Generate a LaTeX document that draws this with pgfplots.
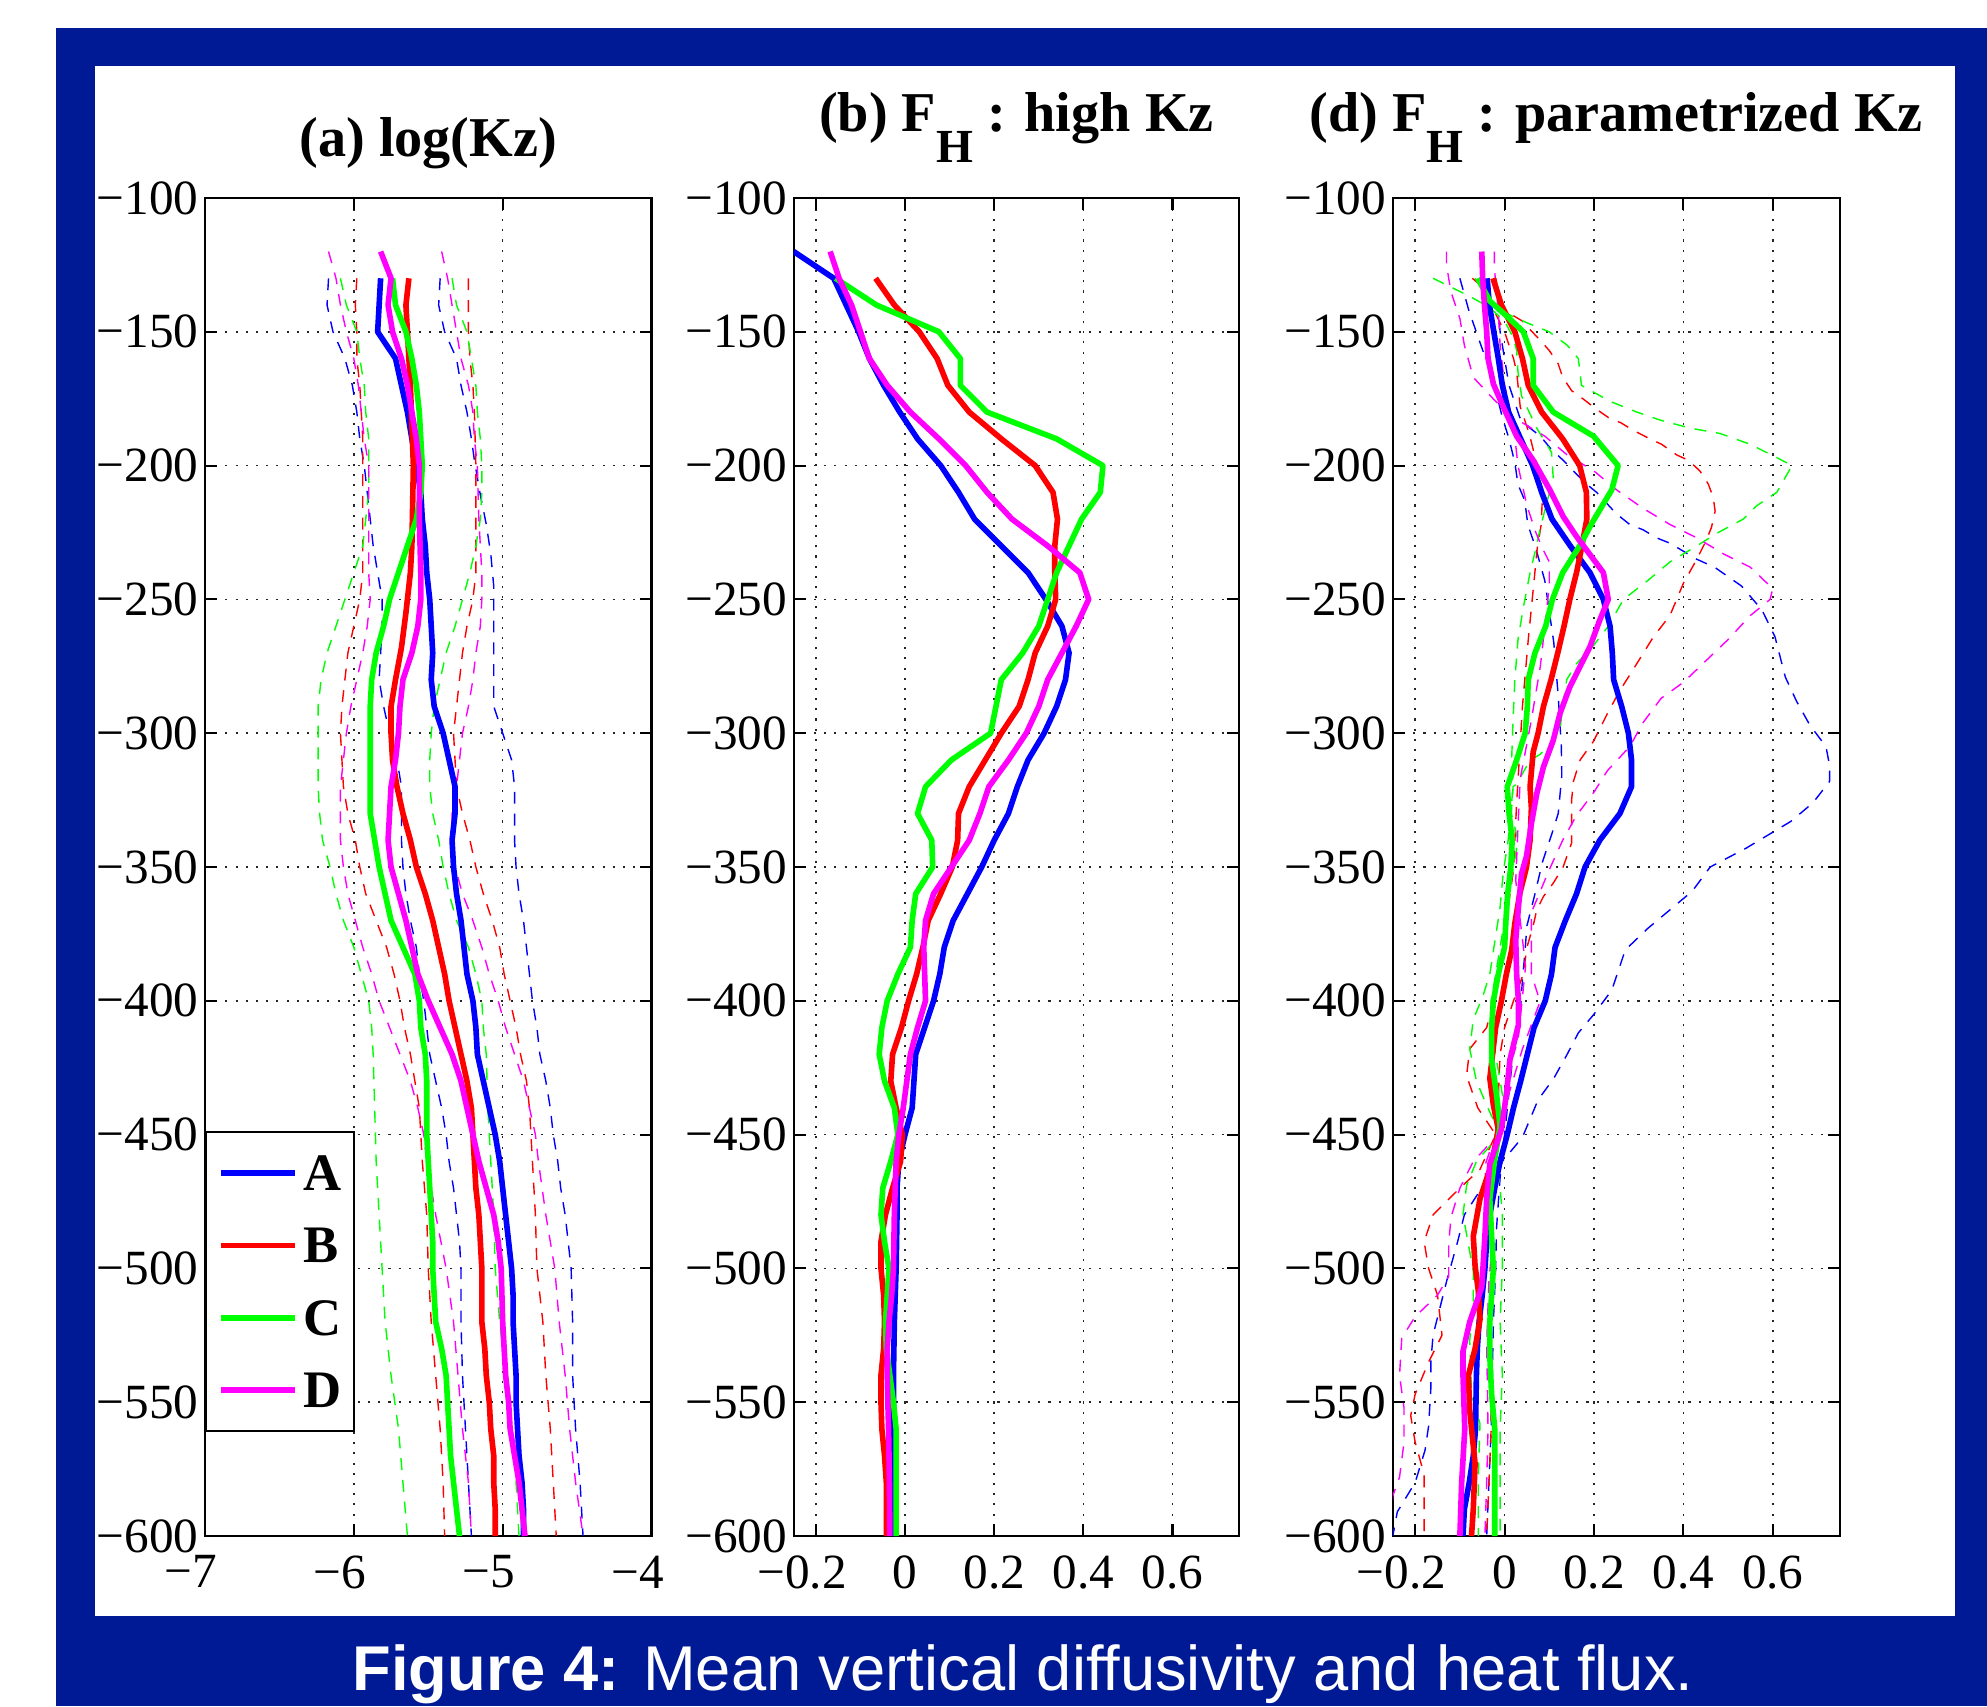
\documentclass[border=0pt]{standalone}
\usepackage{fontspec}
\setmainfont{Liberation Serif}
\newfontfamily\capfont{Liberation Sans}
\usepackage{pgfplots}
\pgfplotsset{compat=1.18}
\definecolor{frameblue}{RGB}{0,25,148}
\definecolor{mblue}{RGB}{0,0,255}
\definecolor{mred}{RGB}{255,0,0}
\definecolor{mgreen}{RGB}{0,255,0}
\definecolor{mmag}{RGB}{255,0,255}
\pgfplotsset{
  panel/.style={
    scale only axis, height=133.8mm, anchor=south west,
    ymin=-600, ymax=-100,
    ytick={-600,-550,...,-100},
    yticklabels={−600,−550,−500,−450,−400,−350,−300,−250,−200,−150,−100},
    grid=major,
    major grid style={black!85, line width=0.45pt, dash pattern=on 0.6pt off 2.3pt},
    tick align=inside,
    major tick length=1.2mm,
    axis line style={line width=0.6pt},
    every tick/.style={black, line width=0.6pt},
    tick label style={font=\fontsize{14}{16}\selectfont},
    yticklabel style={anchor=east, inner sep=0pt, xshift=-0.6mm},
    xticklabel style={anchor=north, inner sep=0pt, yshift=-1.9mm},
    title style={at={(0.5,1)}, anchor=base, inner sep=0pt, font=\bfseries\fontsize{16}{18}\selectfont},
    every axis plot/.append style={line join=round},
  },
  sol/.style={line width=1.6pt},
  dsh/.style={line width=0.4pt, dash pattern=on 3.4pt off 2.8pt, forget plot},
}
\newcommand{\subH}{\raisebox{-0.55em}{\fontsize{13.5}{14}\selectfont H}}
\begin{document}
\begin{tikzpicture}
\fill[white] (0,0) rectangle (198.7mm,170.6mm);
\fill[frameblue] (5.6mm,0) rectangle (198.7mm,167.8mm);
\fill[white] (9.5mm,9.0mm) rectangle (195.5mm,164.0mm);
\node[anchor=base, inner sep=0pt, text=white, font=\capfont\fontsize{18}{20}\selectfont] at (102.3mm,1.6mm) {\textbf{Figure 4:} Mean vertical diffusivity and heat flux.};

% ---------------- panel (a)
\begin{axis}[panel, at={(20.5mm,17.0mm)}, width=44.65mm,
  xmin=-7, xmax=-4, xtick={-7,-6,-5,-4},
  xticklabels={\llap{−}7,\llap{−}6,\llap{−}5,\llap{−}4},
  title={(a) log(Kz)}, title style={yshift=2.0mm},
  legend cell align=left,
  legend style={at={(0,0.3027)}, anchor=north west, draw=black, line width=0.6pt, fill=white,
    inner xsep=1.2mm, inner ysep=0.5mm, row sep=0pt,
    font=\bfseries\fontsize{15}{15}\selectfont,
    nodes={inner sep=0pt, text height=5.365mm, text depth=1.865mm},
    /tikz/every odd column/.append style={column sep=0.6mm}},
  legend image code/.code={\draw[#1, line cap=butt] (0mm,0mm) -- (7.4mm,0mm);},
]
% dashed bounds
\addplot[dsh, mblue] coordinates {(-6.17,-130) (-6.18,-140) (-6.14,-150) (-6.06,-160) (-6.01,-170) (-5.98,-180) (-5.96,-190) (-5.93,-200) (-5.89,-220) (-5.87,-230) (-5.84,-240) (-5.81,-250) (-5.81,-260) (-5.82,-270) (-5.83,-280) (-5.80,-290) (-5.76,-300) (-5.71,-310) (-5.68,-320) (-5.68,-330) (-5.68,-340) (-5.67,-350) (-5.65,-360) (-5.62,-370) (-5.58,-380) (-5.56,-390) (-5.53,-400) (-5.51,-410) (-5.49,-420) (-5.45,-430) (-5.41,-440) (-5.38,-450) (-5.36,-460) (-5.33,-470) (-5.31,-480) (-5.29,-490) (-5.28,-500) (-5.28,-520) (-5.27,-540) (-5.25,-560) (-5.23,-580) (-5.21,-600)};
\addplot[dsh, mblue] coordinates {(-5.42,-130) (-5.43,-140) (-5.39,-150) (-5.31,-160) (-5.28,-170) (-5.24,-180) (-5.21,-190) (-5.19,-198) (-5.15,-211) (-5.11,-222) (-5.08,-233) (-5.06,-245) (-5.06,-260) (-5.06,-275) (-5.06,-290) (-5.00,-300) (-4.94,-310) (-4.92,-320) (-4.92,-330) (-4.92,-340) (-4.91,-350) (-4.89,-360) (-4.86,-370) (-4.84,-380) (-4.82,-390) (-4.80,-400) (-4.77,-410) (-4.75,-420) (-4.71,-430) (-4.68,-440) (-4.66,-450) (-4.63,-460) (-4.61,-470) (-4.58,-480) (-4.56,-490) (-4.54,-500) (-4.53,-520) (-4.53,-540) (-4.51,-560) (-4.48,-580) (-4.46,-600)};
\addplot[dsh, mred] coordinates {(-5.98,-130) (-5.99,-140) (-5.98,-150) (-5.98,-160) (-5.96,-170) (-5.95,-180) (-5.94,-190) (-5.94,-200) (-5.94,-240) (-5.96,-250) (-6.00,-260) (-6.04,-270) (-6.06,-280) (-6.08,-290) (-6.09,-300) (-6.08,-310) (-6.07,-320) (-6.04,-330) (-5.99,-340) (-5.96,-350) (-5.92,-360) (-5.85,-370) (-5.78,-380) (-5.73,-390) (-5.69,-400) (-5.66,-410) (-5.62,-420) (-5.59,-430) (-5.56,-440) (-5.55,-450) (-5.54,-460) (-5.51,-480) (-5.50,-500) (-5.48,-520) (-5.45,-540) (-5.42,-560) (-5.40,-580) (-5.39,-600)};
\addplot[dsh, mred] coordinates {(-5.23,-130) (-5.23,-140) (-5.23,-150) (-5.22,-160) (-5.20,-170) (-5.19,-180) (-5.18,-200) (-5.18,-240) (-5.20,-250) (-5.24,-260) (-5.27,-270) (-5.29,-280) (-5.31,-290) (-5.33,-300) (-5.32,-310) (-5.31,-320) (-5.27,-330) (-5.22,-340) (-5.18,-350) (-5.13,-360) (-5.07,-370) (-5.02,-380) (-4.99,-390) (-4.95,-400) (-4.91,-410) (-4.88,-420) (-4.84,-430) (-4.82,-440) (-4.81,-450) (-4.80,-460) (-4.78,-480) (-4.77,-500) (-4.73,-520) (-4.71,-540) (-4.68,-560) (-4.66,-580) (-4.64,-600)};
\addplot[dsh, mgreen] coordinates {(-6.09,-130) (-6.05,-140) (-5.98,-150) (-5.96,-160) (-5.93,-170) (-5.92,-180) (-5.90,-190) (-5.90,-200) (-5.90,-210) (-5.92,-220) (-5.94,-230) (-6.00,-240) (-6.06,-250) (-6.12,-260) (-6.18,-270) (-6.22,-280) (-6.24,-290) (-6.24,-300) (-6.24,-320) (-6.23,-330) (-6.21,-340) (-6.16,-350) (-6.12,-360) (-6.07,-370) (-6.00,-380) (-5.95,-390) (-5.90,-400) (-5.88,-410) (-5.87,-420) (-5.86,-440) (-5.85,-460) (-5.83,-480) (-5.81,-500) (-5.79,-520) (-5.75,-540) (-5.70,-560) (-5.67,-580) (-5.64,-600)};
\addplot[dsh, mgreen] coordinates {(-5.34,-130) (-5.31,-140) (-5.24,-150) (-5.21,-160) (-5.18,-170) (-5.17,-180) (-5.15,-190) (-5.14,-200) (-5.14,-210) (-5.15,-220) (-5.18,-230) (-5.22,-240) (-5.27,-250) (-5.32,-260) (-5.38,-270) (-5.42,-280) (-5.46,-290) (-5.48,-300) (-5.49,-310) (-5.49,-320) (-5.47,-330) (-5.43,-340) (-5.40,-350) (-5.36,-360) (-5.31,-370) (-5.23,-380) (-5.18,-390) (-5.14,-400) (-5.13,-410) (-5.11,-420) (-5.10,-440) (-5.08,-460) (-5.06,-480) (-5.05,-500) (-5.02,-520) (-4.98,-540) (-4.94,-560) (-4.91,-580) (-4.89,-600)};
\addplot[dsh, mmag] coordinates {(-6.17,-120) (-6.12,-130) (-6.09,-140) (-6.05,-150) (-6.00,-160) (-5.97,-170) (-5.95,-180) (-5.93,-190) (-5.90,-200) (-5.90,-220) (-5.90,-240) (-5.89,-250) (-5.91,-260) (-5.94,-270) (-5.98,-280) (-6.02,-290) (-6.05,-300) (-6.07,-310) (-6.09,-320) (-6.09,-330) (-6.09,-340) (-6.07,-350) (-6.04,-360) (-5.99,-370) (-5.94,-380) (-5.88,-390) (-5.83,-400) (-5.76,-410) (-5.69,-420) (-5.62,-430) (-5.57,-440) (-5.53,-450) (-5.51,-460) (-5.45,-480) (-5.38,-500) (-5.33,-520) (-5.30,-540) (-5.27,-560) (-5.23,-580) (-5.21,-600)};
\addplot[dsh, mmag] coordinates {(-5.41,-120) (-5.37,-130) (-5.34,-140) (-5.31,-150) (-5.28,-160) (-5.23,-170) (-5.20,-180) (-5.19,-190) (-5.17,-200) (-5.16,-220) (-5.14,-240) (-5.14,-250) (-5.15,-260) (-5.18,-270) (-5.20,-280) (-5.23,-290) (-5.27,-300) (-5.29,-310) (-5.31,-320) (-5.34,-330) (-5.34,-340) (-5.32,-350) (-5.27,-360) (-5.20,-370) (-5.14,-380) (-5.09,-390) (-5.03,-400) (-4.98,-410) (-4.92,-420) (-4.86,-430) (-4.82,-440) (-4.78,-450) (-4.76,-460) (-4.71,-480) (-4.65,-500) (-4.62,-520) (-4.58,-540) (-4.55,-560) (-4.51,-580) (-4.46,-600)};
% solid means
\addplot[sol, mblue] coordinates {(-5.82,-130) (-5.83,-140) (-5.84,-150) (-5.72,-160) (-5.68,-170) (-5.64,-180) (-5.61,-190) (-5.58,-200) (-5.55,-210) (-5.54,-220) (-5.52,-230) (-5.51,-240) (-5.49,-250) (-5.48,-260) (-5.47,-270) (-5.48,-280) (-5.46,-290) (-5.40,-300) (-5.32,-320) (-5.32,-330) (-5.34,-340) (-5.33,-350) (-5.31,-360) (-5.28,-370) (-5.26,-380) (-5.24,-390) (-5.20,-400) (-5.18,-410) (-5.17,-420) (-5.13,-430) (-5.09,-440) (-5.05,-450) (-5.02,-460) (-5.00,-470) (-4.98,-480) (-4.96,-490) (-4.94,-500) (-4.93,-510) (-4.93,-520) (-4.92,-530) (-4.91,-540) (-4.91,-550) (-4.90,-560) (-4.89,-570) (-4.87,-580) (-4.86,-590) (-4.86,-600)};
\addlegendentry{A}
\addplot[sol, mred] coordinates {(-5.63,-130) (-5.65,-140) (-5.64,-150) (-5.62,-170) (-5.60,-200) (-5.61,-230) (-5.62,-240) (-5.65,-255) (-5.68,-268) (-5.72,-280) (-5.75,-290) (-5.75,-300) (-5.74,-310) (-5.71,-320) (-5.67,-330) (-5.62,-340) (-5.58,-350) (-5.52,-360) (-5.47,-370) (-5.43,-380) (-5.39,-390) (-5.36,-400) (-5.32,-410) (-5.28,-420) (-5.24,-430) (-5.21,-440) (-5.20,-450) (-5.19,-460) (-5.18,-470) (-5.16,-480) (-5.15,-490) (-5.14,-500) (-5.14,-520) (-5.12,-530) (-5.11,-540) (-5.09,-550) (-5.08,-560) (-5.06,-570) (-5.06,-580) (-5.05,-590) (-5.05,-600)};
\addlegendentry{B}
\addplot[sol, mgreen] coordinates {(-5.74,-130) (-5.72,-140) (-5.65,-150) (-5.61,-160) (-5.58,-170) (-5.56,-180) (-5.55,-190) (-5.54,-200) (-5.55,-210) (-5.58,-220) (-5.64,-230) (-5.70,-240) (-5.76,-250) (-5.80,-260) (-5.85,-270) (-5.88,-280) (-5.89,-290) (-5.89,-300) (-5.89,-330) (-5.86,-340) (-5.83,-350) (-5.79,-360) (-5.75,-370) (-5.67,-380) (-5.59,-390) (-5.56,-400) (-5.55,-410) (-5.52,-420) (-5.51,-430) (-5.51,-450) (-5.50,-460) (-5.49,-470) (-5.48,-480) (-5.47,-490) (-5.47,-500) (-5.46,-510) (-5.45,-520) (-5.41,-530) (-5.38,-540) (-5.37,-550) (-5.36,-560) (-5.35,-570) (-5.33,-580) (-5.31,-590) (-5.29,-600)};
\addlegendentry{C}
\addplot[sol, mmag] coordinates {(-5.82,-120) (-5.75,-130) (-5.77,-140) (-5.74,-150) (-5.68,-160) (-5.64,-170) (-5.61,-180) (-5.58,-190) (-5.56,-200) (-5.56,-220) (-5.55,-240) (-5.55,-250) (-5.57,-260) (-5.61,-270) (-5.67,-280) (-5.69,-290) (-5.70,-300) (-5.72,-310) (-5.75,-320) (-5.76,-330) (-5.77,-340) (-5.75,-350) (-5.70,-360) (-5.65,-370) (-5.61,-380) (-5.57,-390) (-5.50,-400) (-5.42,-410) (-5.34,-420) (-5.28,-430) (-5.24,-440) (-5.20,-450) (-5.16,-460) (-5.11,-470) (-5.06,-480) (-5.03,-490) (-5.01,-500) (-5.00,-520) (-4.99,-530) (-4.98,-540) (-4.96,-550) (-4.95,-560) (-4.92,-570) (-4.89,-580) (-4.87,-590) (-4.85,-600)};
\addlegendentry{D}
\end{axis}

% ---------------- panel (b)
\begin{axis}[panel, at={(79.36mm,17.0mm)}, width=44.57mm,
  xmin=-0.25, xmax=0.75, xtick={-0.2,0,0.2,0.4,0.6},
  xticklabels={\llap{−}0.2,0,0.2,0.4,0.6},
  title={(b) F\subH\ : high Kz}, title style={yshift=4.5mm},
]
\addplot[sol, mblue] coordinates {(-0.25,-120) (-0.16,-130) (-0.132,-140) (-0.104,-150) (-0.08,-160) (-0.048,-170) (-0.012,-180) (0.028,-190) (0.08,-200) (0.12,-210) (0.156,-220) (0.216,-230) (0.276,-240) (0.316,-250) (0.352,-260) (0.368,-270) (0.36,-280) (0.34,-290) (0.312,-300) (0.276,-310) (0.252,-320) (0.232,-330) (0.2,-340) (0.172,-350) (0.14,-360) (0.108,-370) (0.088,-380) (0.078,-390) (0.064,-400) (0.044,-410) (0.024,-420) (0.02,-430) (0.016,-440) (0.0,-450) (-0.014,-460) (-0.018,-470) (-0.018,-480) (-0.02,-500) (-0.024,-520) (-0.026,-540) (-0.026,-600)};
\addplot[sol, mred] coordinates {(-0.066,-130) (-0.024,-140) (0.032,-150) (0.072,-160) (0.096,-170) (0.144,-180) (0.216,-190) (0.292,-200) (0.332,-210) (0.342,-220) (0.336,-230) (0.336,-240) (0.338,-250) (0.32,-260) (0.292,-270) (0.276,-280) (0.256,-290) (0.216,-300) (0.18,-310) (0.144,-320) (0.12,-330) (0.118,-340) (0.106,-350) (0.08,-360) (0.052,-370) (0.04,-380) (0.026,-390) (0.008,-400) (-0.008,-410) (-0.028,-420) (-0.032,-430) (-0.02,-440) (-0.006,-450) (-0.01,-460) (-0.028,-470) (-0.044,-480) (-0.054,-490) (-0.054,-500) (-0.048,-510) (-0.046,-520) (-0.048,-530) (-0.054,-540) (-0.054,-550) (-0.052,-560) (-0.046,-570) (-0.042,-580) (-0.042,-600)};
\addplot[sol, mgreen] coordinates {(-0.156,-130) (-0.064,-140) (0.076,-150) (0.124,-160) (0.124,-170) (0.184,-180) (0.34,-190) (0.444,-200) (0.438,-210) (0.396,-220) (0.368,-230) (0.34,-240) (0.32,-250) (0.30,-260) (0.264,-270) (0.216,-280) (0.204,-290) (0.192,-300) (0.104,-310) (0.046,-320) (0.028,-330) (0.06,-340) (0.062,-350) (0.024,-360) (0.016,-370) (0.012,-380) (-0.016,-390) (-0.04,-400) (-0.052,-410) (-0.058,-420) (-0.046,-430) (-0.024,-440) (-0.016,-450) (-0.032,-460) (-0.05,-470) (-0.054,-480) (-0.046,-490) (-0.036,-500) (-0.04,-510) (-0.044,-520) (-0.042,-530) (-0.034,-540) (-0.026,-550) (-0.02,-560) (-0.02,-600)};
\addplot[sol, mmag] coordinates {(-0.168,-120) (-0.148,-130) (-0.12,-140) (-0.1,-150) (-0.08,-160) (-0.04,-170) (0.012,-180) (0.076,-190) (0.136,-200) (0.184,-210) (0.24,-220) (0.32,-230) (0.392,-240) (0.412,-250) (0.384,-260) (0.352,-270) (0.32,-280) (0.30,-290) (0.272,-300) (0.232,-310) (0.188,-320) (0.168,-330) (0.144,-340) (0.104,-350) (0.064,-360) (0.046,-370) (0.042,-380) (0.044,-390) (0.046,-400) (0.028,-410) (0.012,-420) (0.004,-430) (-0.004,-440) (-0.014,-450) (-0.02,-460) (-0.022,-470) (-0.024,-480) (-0.026,-500) (-0.03,-510) (-0.036,-520) (-0.04,-530) (-0.04,-540) (-0.037,-560) (-0.035,-580) (-0.034,-600)};
\end{axis}

% ---------------- panel (d)
\begin{axis}[panel, at={(139.28mm,17.0mm)}, width=44.7mm,
  xmin=-0.25, xmax=0.75, xtick={-0.2,0,0.2,0.4,0.6},
  xticklabels={\llap{−}0.2,0,0.2,0.4,0.6},
  title={(d) F\subH\ : parametrized Kz}, title style={yshift=4.5mm},
]
% dashed
\addplot[dsh, mblue] coordinates {(-0.1,-130) (-0.08,-142) (-0.055,-154) (-0.036,-163) (-0.02,-172) (-0.005,-182) (0.01,-190) (0.023,-199) (0.03,-207) (0.045,-213) (0.052,-222) (0.07,-231) (0.09,-243) (0.11,-266) (0.12,-286) (0.127,-305) (0.128,-316) (0.12,-330) (0.105,-338) (0.085,-348) (0.068,-360) (0.05,-372) (0.045,-383) (0.04,-392) (0.035,-405) (0.017,-423) (0.0,-450) (-0.01,-466) (-0.018,-485) (-0.02,-500) (-0.025,-520) (-0.03,-560) (-0.04,-600)};
\addplot[dsh, mblue] coordinates {(-0.02,-130) (-0.01,-150) (0.01,-170) (0.034,-182) (0.057,-186) (0.08,-189) (0.105,-194) (0.131,-198) (0.154,-202) (0.184,-207) (0.206,-210) (0.228,-214) (0.25,-218) (0.28,-222) (0.31,-224) (0.34,-227) (0.37,-229) (0.4,-232) (0.43,-235) (0.47,-238) (0.53,-245) (0.576,-254) (0.605,-264) (0.628,-279) (0.653,-288) (0.683,-297) (0.719,-305) (0.727,-312) (0.727,-318) (0.69,-326) (0.64,-333) (0.6,-337) (0.54,-343) (0.46,-350) (0.42,-359) (0.37,-366) (0.32,-373) (0.27,-381) (0.25,-391) (0.24,-396) (0.2,-405) (0.165,-412) (0.14,-420) (0.11,-429) (0.075,-437) (0.04,-451) (-0.04,-467) (-0.09,-480) (-0.105,-490) (-0.13,-505) (-0.16,-525) (-0.165,-535) (-0.165,-545) (-0.17,-559) (-0.178,-568) (-0.2,-580) (-0.24,-591) (-0.25,-600)};
\addplot[dsh, mred] coordinates {(-0.072,-130) (-0.051,-133) (-0.03,-140) (0.0,-150) (0.02,-160) (0.027,-165) (0.035,-178) (0.055,-188) (0.073,-200) (0.085,-210) (0.082,-222) (0.073,-231) (0.066,-243) (0.053,-265) (0.04,-290) (0.027,-326) (0.02,-351) (0.008,-365) (0.0,-381) (-0.01,-390) (-0.04,-410) (-0.078,-418) (-0.085,-428) (-0.06,-440) (-0.02,-450) (-0.055,-463) (-0.1,-470) (-0.16,-480) (-0.18,-490) (-0.17,-500) (-0.15,-510) (-0.14,-525) (-0.17,-535) (-0.2,-547) (-0.21,-555) (-0.2,-565) (-0.18,-577) (-0.18,-600)};
\addplot[dsh, mred] coordinates {(-0.02,-130) (-0.01,-137) (0.0,-142) (0.04,-146) (0.05,-148) (0.079,-153) (0.1,-157) (0.12,-162) (0.13,-167) (0.15,-172) (0.175,-175) (0.206,-179) (0.232,-182) (0.26,-184) (0.29,-187) (0.325,-190) (0.351,-192) (0.385,-196) (0.411,-198) (0.437,-202) (0.456,-207) (0.467,-212) (0.471,-217) (0.463,-223) (0.451,-228) (0.43,-235) (0.4,-244) (0.37,-256) (0.333,-264) (0.281,-278) (0.258,-284) (0.229,-293) (0.199,-303) (0.169,-310) (0.154,-318) (0.15,-325) (0.15,-341) (0.131,-350) (0.109,-356) (0.087,-361) (0.072,-366) (0.064,-372) (0.05,-380) (0.042,-390) (0.02,-400) (0.0,-410) (-0.01,-420) (-0.015,-440) (-0.02,-450) (-0.025,-460) (-0.03,-480) (-0.03,-500) (-0.035,-520) (-0.03,-540) (-0.03,-560) (-0.035,-580) (-0.04,-600)};
\addplot[dsh, mgreen] coordinates {(-0.16,-130) (-0.075,-137) (-0.033,-141) (0.0,-146) (0.019,-152) (0.027,-157) (0.03,-165) (0.038,-174) (0.072,-186) (0.105,-195) (0.109,-205) (0.094,-214) (0.079,-224) (0.07,-231) (0.057,-240) (0.042,-253) (0.03,-265) (0.023,-280) (0.019,-295) (0.016,-309) (0.019,-320) (0.008,-340) (-0.003,-352) (-0.01,-365) (-0.033,-390) (-0.048,-398) (-0.07,-407) (-0.078,-418) (-0.063,-430) (-0.04,-439) (-0.01,-450) (-0.063,-460) (-0.085,-469) (-0.093,-480) (-0.07,-501) (-0.07,-514) (-0.078,-527) (-0.074,-547) (-0.055,-558) (-0.059,-579) (-0.059,-600)};
\addplot[dsh, mgreen] coordinates {(-0.066,-130) (-0.02,-141) (0.027,-145) (0.07,-148) (0.1,-150) (0.14,-155) (0.165,-160) (0.172,-170) (0.236,-176) (0.296,-180) (0.348,-183) (0.415,-186) (0.482,-188) (0.549,-192) (0.609,-197) (0.643,-200) (0.609,-210) (0.564,-215) (0.534,-220) (0.478,-225) (0.43,-230) (0.37,-236) (0.32,-243) (0.266,-250) (0.232,-260) (0.2,-267) (0.161,-274) (0.139,-280) (0.13,-290) (0.124,-299) (0.101,-304) (0.079,-308) (0.057,-310) (0.027,-319) (0.019,-320) (0.015,-330) (0.03,-340) (0.02,-350) (0.01,-360) (0.0,-370) (-0.01,-380) (-0.02,-390) (-0.03,-400) (-0.03,-410) (-0.02,-420) (-0.01,-430) (0.0,-440) (-0.01,-450) (-0.02,-460) (-0.01,-470) (-0.005,-480) (-0.005,-500) (-0.01,-520) (-0.005,-540) (-0.01,-560) (-0.01,-580) (-0.01,-600)};
\addplot[dsh, mmag] coordinates {(-0.13,-120) (-0.13,-125) (-0.12,-135) (-0.1,-145) (-0.09,-155) (-0.07,-167) (-0.02,-176) (0.02,-182) (0.09,-189) (0.14,-196) (0.2,-202) (0.25,-209) (0.31,-216) (0.37,-222) (0.43,-227) (0.49,-233) (0.55,-238) (0.6,-246) (0.594,-250) (0.55,-256) (0.5,-265) (0.45,-273) (0.4,-281) (0.35,-287) (0.31,-296) (0.28,-305) (0.23,-314) (0.2,-322) (0.16,-331) (0.13,-340) (0.1,-351) (0.08,-359) (0.06,-367) (0.06,-390) (0.075,-398) (0.08,-400) (0.04,-418) (0.0,-440) (-0.02,-451) (-0.07,-460) (-0.1,-470) (-0.12,-481) (-0.125,-491) (-0.125,-503) (-0.15,-510) (-0.2,-518) (-0.23,-526) (-0.235,-540) (-0.225,-552) (-0.225,-565) (-0.235,-578) (-0.25,-585) (-0.26,-600)};
\addplot[dsh, mmag] coordinates {(-0.023,-120) (-0.023,-126) (-0.015,-140) (-0.01,-155) (0.0,-170) (0.02,-185) (0.03,-200) (0.05,-215) (0.07,-225) (0.085,-231) (0.1,-236) (0.1,-245) (0.09,-260) (0.08,-275) (0.06,-295) (0.035,-317) (0.03,-335) (0.025,-355) (0.035,-370) (0.047,-387) (0.03,-415) (0.01,-425) (0.0,-440) (-0.02,-450) (-0.045,-462) (-0.035,-475) (-0.025,-486) (-0.035,-505) (-0.04,-528) (-0.037,-560) (-0.04,-580) (-0.044,-600)};
% solid
\addplot[sol, mblue] coordinates {(-0.039,-130) (-0.034,-140) (-0.024,-150) (-0.014,-160) (-0.005,-170) (0.009,-180) (0.036,-190) (0.063,-200) (0.083,-210) (0.106,-220) (0.147,-230) (0.191,-240) (0.221,-250) (0.236,-260) (0.241,-270) (0.244,-280) (0.262,-290) (0.277,-300) (0.284,-310) (0.284,-320) (0.258,-330) (0.213,-340) (0.18,-350) (0.161,-360) (0.136,-370) (0.113,-380) (0.105,-390) (0.091,-400) (0.066,-410) (0.051,-420) (0.036,-430) (0.02,-440) (0.006,-450) (-0.01,-460) (-0.022,-470) (-0.033,-480) (-0.04,-490) (-0.044,-500) (-0.05,-510) (-0.057,-520) (-0.061,-530) (-0.063,-540) (-0.064,-550) (-0.065,-560) (-0.07,-570) (-0.079,-580) (-0.09,-590) (-0.093,-600)};
\addplot[sol, mred] coordinates {(-0.026,-130) (-0.007,-140) (0.023,-150) (0.04,-160) (0.053,-170) (0.083,-180) (0.13,-190) (0.168,-200) (0.183,-210) (0.184,-220) (0.173,-230) (0.161,-240) (0.146,-250) (0.133,-260) (0.119,-270) (0.104,-280) (0.087,-290) (0.075,-300) (0.064,-307) (0.057,-320) (0.06,-328) (0.057,-340) (0.049,-350) (0.034,-360) (0.023,-371) (0.016,-381) (0.004,-390) (-0.007,-400) (-0.02,-410) (-0.033,-429) (-0.025,-439) (-0.014,-448) (-0.029,-461) (-0.055,-474) (-0.07,-488) (-0.066,-499) (-0.059,-508) (-0.055,-519) (-0.066,-530) (-0.081,-540) (-0.078,-553) (-0.066,-573) (-0.07,-590) (-0.074,-600)};
\addplot[sol, mgreen] coordinates {(-0.06,-130) (-0.033,-138.5) (0.004,-144) (0.042,-150) (0.064,-160) (0.064,-170) (0.109,-180) (0.199,-189) (0.254,-200) (0.24,-209) (0.195,-221.6) (0.168,-230) (0.13,-240) (0.107,-250) (0.092,-260) (0.068,-270) (0.053,-280) (0.051,-290) (0.046,-300) (0.027,-310) (0.006,-320) (0.01,-330) (0.017,-340) (0.014,-350) (0.007,-360) (0.003,-370) (0.0,-380) (-0.014,-390) (-0.025,-400) (-0.029,-410) (-0.029,-422) (-0.018,-435) (-0.01,-447) (-0.022,-459) (-0.033,-474) (-0.029,-488) (-0.025,-500) (-0.033,-520) (-0.033,-533) (-0.029,-547) (-0.022,-560) (-0.022,-580) (-0.022,-600)};
\addplot[sol, mmag] coordinates {(-0.051,-120) (-0.049,-130) (-0.045,-140) (-0.04,-150) (-0.037,-160) (-0.025,-169.5) (-0.003,-178) (0.027,-189) (0.064,-198) (0.101,-209) (0.131,-219) (0.161,-226.5) (0.221,-240) (0.232,-250) (0.213,-257.7) (0.191,-267.7) (0.169,-275) (0.146,-282.7) (0.124,-292.6) (0.109,-302.6) (0.087,-312.6) (0.072,-322.6) (0.06,-333.8) (0.049,-346) (0.038,-352.5) (0.031,-365) (0.025,-377.4) (0.027,-390) (0.031,-400) (0.031,-409) (0.012,-422) (0.004,-435) (-0.007,-448) (-0.033,-461) (-0.04,-474) (-0.044,-488) (-0.051,-507) (-0.078,-520) (-0.093,-531) (-0.093,-540) (-0.089,-560) (-0.096,-580) (-0.1,-600)};
\end{axis}
\pgfresetboundingbox
\path[use as bounding box] (0,0) rectangle (198.7mm,170.6mm);
\end{tikzpicture}
\end{document}
